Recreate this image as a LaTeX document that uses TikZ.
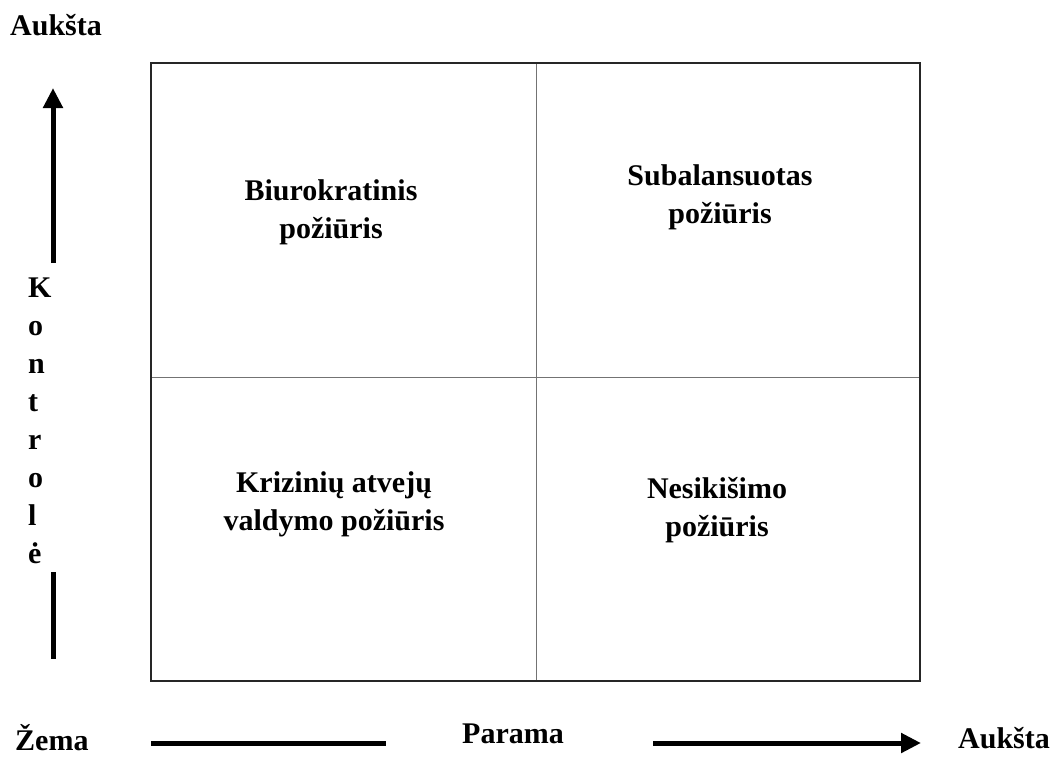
\documentclass[tikz,border=0pt]{standalone}
\usepackage{fontspec}
\setmainfont{Liberation Serif}
\usetikzlibrary{arrows.meta}
\begin{document}
\begin{tikzpicture}[x=1pt,y=-1pt,
  lbl/.style={inner sep=0pt,font=\fontsize{30}{38}\selectfont\bfseries},
  quad/.style={lbl,anchor=base},
  thickarrow/.style={line width=5pt,-{Triangle[length=20pt,width=19pt]}},
  thickbar/.style={line width=5pt},
  frame/.style={line width=1.6pt,draw=black!85},
  divider/.style={line width=1pt,draw=black!55}]
\useasboundingbox (0,0) rectangle (1059,756);
% frame
\coordinate (tl) at (151,63);
\coordinate (br) at (920,681);
\coordinate (mt) at (536,63);
\coordinate (mb) at (536,681);
\coordinate (ml) at (151,377);
\coordinate (mr) at (920,377);
\draw[divider] (mt) -- (mb);
\draw[divider] (ml) -- (mr);
\draw[frame] (tl) rectangle (br);
% quadrant labels
\node[quad] (biuro) at (331,200) {\begin{tabular}[t]{@{}c@{}}Biurokratinis\\požiūris\end{tabular}};
\node[quad] (subal) at (720,185) {\begin{tabular}[t]{@{}c@{}}Subalansuotas\\požiūris\end{tabular}};
\node[quad] (kriz) at (334,492) {\begin{tabular}[t]{@{}c@{}}Krizinių atvejų\\valdymo požiūris\end{tabular}};
\node[quad] (nesik) at (717,498) {\begin{tabular}[t]{@{}c@{}}Nesikišimo\\požiūris\end{tabular}};
% vertical axis
\node[lbl,anchor=base west] (auktop) at (10,35) {Aukšta};
\node[lbl,anchor=base west] (kontr) at (28,297) {\begin{tabular}[t]{@{}l@{}}K\\o\\n\\t\\r\\o\\l\\ė\end{tabular}};
\coordinate (vtail) at (53,263);
\coordinate (vtip) at (53,88);
\draw[thickarrow] (vtail) -- (vtip);
\coordinate (vlow1) at (53,572);
\coordinate (vlow2) at (53,659);
\draw[thickbar] (vlow1) -- (vlow2);
% horizontal axis
\node[lbl,anchor=base west] (zema) at (15,750) {Žema};
\node[lbl,anchor=base] (parama) at (513,743) {Parama};
\node[lbl,anchor=base west] (aukright) at (958,748) {Aukšta};
\coordinate (hbar1) at (151,743);
\coordinate (hbar2) at (386,743);
\draw[thickbar] (hbar1) -- (hbar2);
\coordinate (htail) at (653,743);
\coordinate (htip) at (921,743);
\draw[thickarrow] (htail) -- (htip);
\end{tikzpicture}
\end{document}
